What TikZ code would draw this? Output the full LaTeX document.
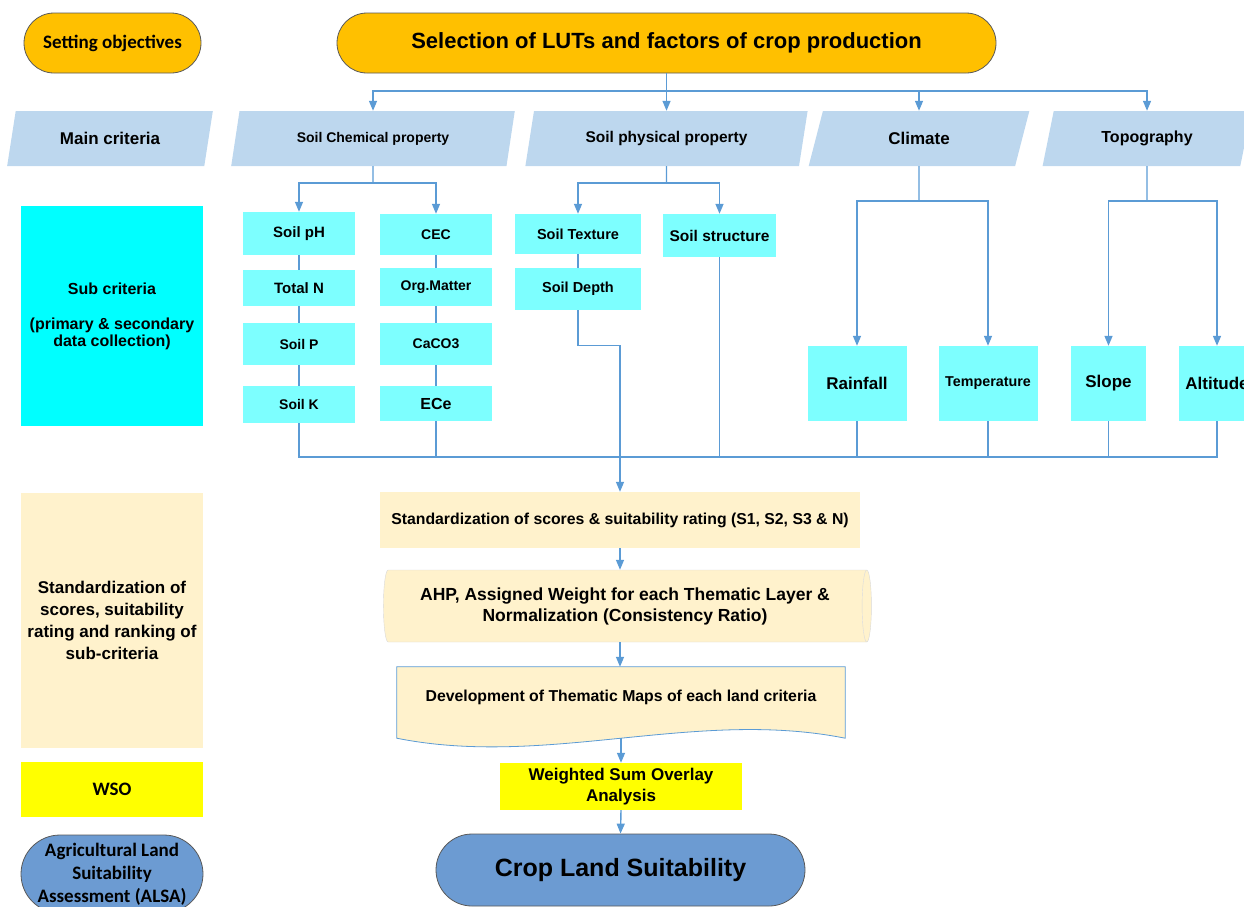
\documentclass[tikz,border=0pt]{standalone}
\usepackage{fontspec}
\setmainfont{Liberation Sans}
\newfontfamily\calibrifont{Carlito}
\usetikzlibrary{positioning,calc,arrows.meta,shapes.geometric,shapes.misc,backgrounds}

\definecolor{lutorange}{HTML}{FFC000}
\definecolor{critblue}{HTML}{BDD7EE}
\definecolor{subcyan}{HTML}{7DFFFF}
\definecolor{labcyan}{HTML}{00FFFF}
\definecolor{stdbeige}{HTML}{FFF2CC}
\definecolor{wsoyellow}{HTML}{FFFF00}
\definecolor{suitblue}{HTML}{6C9BD2}
\definecolor{linkblue}{HTML}{5B9BD5}

\newcommand{\fsz}[1]{\fontsize{#1}{#1}\selectfont}

\begin{document}
\begin{tikzpicture}[x=1pt, y=-1pt,
    pill/.style={rounded rectangle, draw=black!65, line width=0.8pt, fill=lutorange, font=\bfseries, align=center, inner sep=2pt},
    critbox/.style={trapezium, trapezium left angle=70, trapezium right angle=110, trapezium stretches=true, fill=critblue, minimum height=55pt, inner sep=0pt, font=\bfseries\fsz{14}},
    subbox/.style={fill=subcyan, minimum width=112pt, inner sep=0pt, font=\bfseries\fsz{14}},
    labbox/.style={minimum width=182pt, align=center, inner sep=2pt, font=\bfseries\fsz{16}},
    flowbox/.style={fill=stdbeige, align=center, inner sep=0pt, font=\bfseries},
    link/.style={draw=linkblue, line width=1.4pt},
    arrow/.style={link, -{Triangle[length=10pt, width=8pt]}},
]
\useasboundingbox (0,0) rectangle (1244,906);

% left column: stage labels
\node[pill, minimum width=181pt, minimum height=60pt, font=\calibrifont\bfseries\fsz{19}] (setobj) at (112.5, 43) {Setting objectives};
\node[critbox, minimum width=206pt, font=\bfseries\fsz{17}] (maincrit) at (110, 138.5) {Main criteria};
\node[labbox, fill=labcyan, minimum height=220pt, font=\bfseries\fsz{16}] (subcrit) at (112, 316) {Sub criteria\\[19pt](primary \& secondary\\[1pt]data collection)};
\node[labbox, fill=stdbeige, minimum height=255pt, font=\bfseries\fontsize{17}{22}\selectfont] (stdlab) at (112, 620.5) {Standardization of\\scores, suitability\\rating and ranking of\\sub-criteria};
\node[labbox, fill=wsoyellow, minimum height=55pt, font=\calibrifont\bfseries\fsz{19}] (wsolab) at (112, 789.5) {WSO};
\node[draw=black!65, line width=0.8pt, fill=suitblue, rounded corners=39pt, minimum width=182pt, minimum height=78pt, inner sep=0pt, align=center, font=\calibrifont\bfseries\fontsize{19}{23}\selectfont] (alsa) at (112, 874) {Agricultural Land\\Suitability\\Assessment (ALSA)};

% objectives and main criteria
\node[pill, minimum width=663pt, minimum height=60pt, font=\bfseries\fsz{22}] (luts) at (666.5, 43) {Selection of LUTs and factors of crop production};
\node[critbox, minimum width=284pt] (chem) at (373, 138.5) {Soil Chemical property};
\node[critbox, minimum width=283pt, font=\bfseries\fsz{15.5}] (phys) at (666.5, 138.5) {Soil physical property};
\node[critbox, minimum width=222pt, font=\bfseries\fsz{17}] (clim) at (919, 138.5) {Climate};
\node[critbox, minimum width=209pt, font=\bfseries\fsz{16}] (topo) at (1147, 138.5) {Topography};

% sub criteria
\node[subbox, minimum height=43pt, font=\bfseries\fsz{15}] (ph) at (299, 233.5) {Soil pH};
\node[subbox, minimum height=36pt, font=\bfseries\fsz{15}] (totn) at (299, 288) {Total N};
\node[subbox, minimum height=42pt] (soilp) at (299, 344) {Soil P};
\node[subbox, minimum height=37pt] (soilk) at (299, 404.5) {Soil K};
\node[subbox, minimum height=41pt] (cec) at (436, 234.5) {CEC};
\node[subbox, minimum height=38pt] (orgm) at (436, 287) {Org.Matter};
\node[subbox, minimum height=42pt] (caco) at (436, 344) {CaCO3};
\node[subbox, minimum height=35pt, font=\bfseries\fsz{16}] (ece) at (436, 403.5) {ECe};
\node[subbox, minimum width=126pt, minimum height=40pt, font=\bfseries\fsz{14.5}] (texture) at (578, 234) {Soil Texture};
\node[subbox, minimum width=126pt, minimum height=42pt, font=\bfseries\fsz{14.5}] (depth) at (578, 289) {Soil Depth};
\node[subbox, minimum width=113pt, minimum height=43pt, font=\bfseries\fsz{15.5}] (struct) at (719.5, 235.5) {Soil structure};
\node[subbox, minimum width=99pt, minimum height=75pt, font=\bfseries\fsz{17}] (rain) at (857, 383.5) {Rainfall};
\node[subbox, minimum width=99pt, minimum height=75pt, font=\bfseries\fsz{14.3}] (temp) at (988, 383.5) {Temperature};
\node[subbox, minimum width=75pt, minimum height=75pt, font=\bfseries\fsz{17}] (slope) at (1108.5, 383.5) {Slope};
\node[subbox, minimum width=76pt, minimum height=75pt, font=\bfseries\fsz{17}] (alt) at (1217, 383.5) {Altitude};

% analysis chain
\node[flowbox, minimum width=480pt, minimum height=56pt, font=\bfseries\fsz{15.8}] (stdrate) at (620, 520) {Standardization of scores \& suitability rating (S1, S2, S3 \& N)};
\node[cylinder, aspect=0.25, cylinder uses custom fill, cylinder body fill=stdbeige, cylinder end fill=stdbeige, draw=black!15, minimum width=72pt, minimum height=488pt, inner sep=0pt, align=center, font=\bfseries\fontsize{17.5}{21}\selectfont] (ahp) at (625, 606) {AHP, Assigned Weight for each Thematic Layer \&\\Normalization (Consistency Ratio)};
\node[minimum width=448pt, minimum height=60pt, inner sep=0pt, font=\bfseries\fsz{15.8}] (maps) at (621, 697) {Development of Thematic Maps of each land criteria};
\begin{scope}[on background layer]
\draw[draw=linkblue, line width=0.8pt, fill=stdbeige] (maps.north west) -- (maps.north east) -- ($(maps.south east)+(0,11)$) .. controls +(-150,-30) and +(150,30) .. ($(maps.south west)+(0,11)$) -- cycle;
\end{scope}
\coordinate (mapsout) at ($(maps.south)+(0,11)$);
\node[flowbox, fill=wsoyellow, minimum width=242pt, minimum height=47pt, font=\bfseries\fontsize{17}{21}\selectfont] (wso) at (621, 786.5) {Weighted Sum Overlay\\Analysis};
\node[pill, fill=suitblue, minimum width=373pt, minimum height=72pt, font=\bfseries\fsz{25}] (crop) at (620.5, 870) {Crop Land Suitability};

% fan out to main criteria
\coordinate (fan) at (666.5, 91);
\draw[link] (luts.south) -- (fan);
\foreach \c in {chem, phys, clim, topo}
    \draw[arrow] (fan) -| (\c.north);

% fan out to sub criteria
\coordinate (chemfan) at (373, 183);
\coordinate (physfan) at (666.5, 183);
\coordinate (climfan) at (919, 201);
\coordinate (topofan) at (1147, 201);
\draw[link] (chem.south) -- (chemfan);
\draw[arrow] (chemfan) -| (ph.north);
\draw[arrow] (chemfan) -| (cec.north);
\draw[link] (phys.south) -- (physfan);
\draw[arrow] (physfan) -| (texture.north);
\draw[arrow] (physfan) -| (struct.north);
\draw[link] (clim.south) -- (climfan);
\draw[arrow] (climfan) -| (rain.north);
\draw[arrow] (climfan) -| (temp.north);
\draw[link] (topo.south) -- (topofan);
\draw[arrow] (topofan) -| (slope.north);
\draw[arrow] (topofan) -| (alt.north);

% stacked sub criteria
\draw[link] (ph) -- (totn) -- (soilp) -- (soilk);
\draw[link] (cec) -- (orgm) -- (caco) -- (ece);
\draw[link] (texture) -- (depth);

% collect into standardization
\coordinate (merge) at (620, 457);
\draw[link] (soilk.south) -- (soilk.south |- merge) -- (alt.south |- merge) -- (alt.south);
\foreach \n in {ece, struct, rain, temp, slope}
    \draw[link] (\n.south) -- (\n.south |- merge);
\draw[link] (depth.south) -- ++(0,35) -| (merge);
\draw[arrow] (merge) -- (stdrate.north);
\draw[arrow] (stdrate.south) -- (stdrate.south |- ahp.north);
\draw[arrow] (ahp.south -| merge) -- (maps.north -| merge);
\draw[arrow] (mapsout) -- (wso.north);
\draw[arrow] (wso.south) -- (crop.north);
\end{tikzpicture}
\end{document}
